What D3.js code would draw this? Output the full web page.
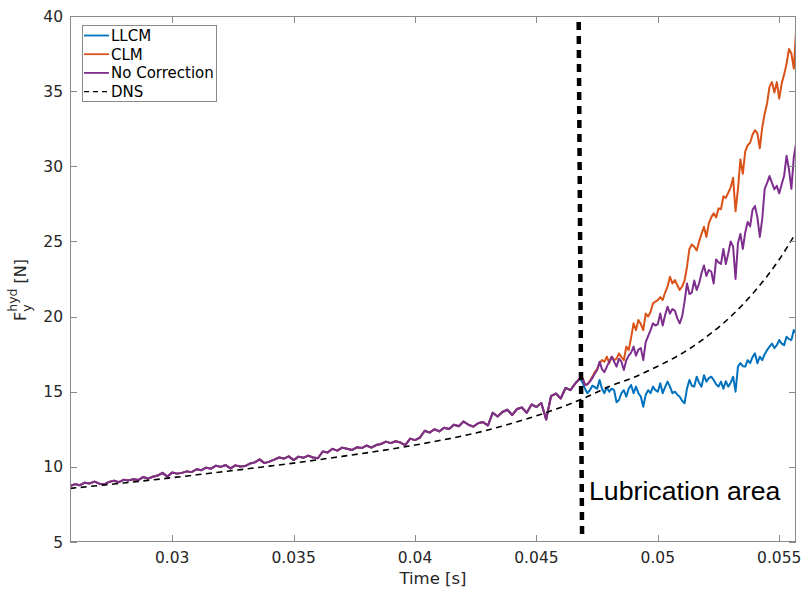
<!DOCTYPE html>
<html>
<head>
<meta charset="utf-8">
<script src="https://cdn.jsdelivr.net/npm/d3@7"></script>
<style>
	body { margin: 0; background: #fff; }
	svg { display: block; font-family: "DejaVu Sans", sans-serif; }
</style>
</head>
<body>
<svg id="chart" width="803" height="591"></svg>
<script>
// before the lubrication line all three models give the same force
const commonStart = 0.0258;
const commonStep = 0.0002;
const forceCommon = [
	8.73, 8.85, 8.78, 8.95, 8.9, 9.02, 8.88, 8.84, 9.0, 9.08,
	8.98, 9.14, 9.1, 9.18, 9.12, 9.32, 9.22, 9.34, 9.42, 9.6,
	9.35, 9.62, 9.55, 9.6, 9.7, 9.65, 9.84, 9.78, 9.95, 9.88,
	10.08, 10.0, 10.12, 9.9, 10.1, 10.02, 10.05, 10.22, 10.3, 10.5,
	10.25, 10.35, 10.48, 10.62, 10.55, 10.7, 10.45, 10.68, 10.6, 10.75,
	10.62, 10.57, 11.02, 10.95, 11.2, 11.08, 11.28, 11.2, 11.12, 11.3,
	11.25, 11.42, 11.28, 11.45, 11.52, 11.68, 11.58, 11.7, 11.62, 11.45,
	11.88, 11.78, 11.95, 12.4, 12.28, 12.5, 12.36, 12.6, 12.52, 12.8,
	12.7, 13.02, 12.8, 12.68, 12.9, 12.98, 12.75, 13.6, 13.35, 13.65,
	13.8, 13.45, 13.85, 13.95, 13.6, 14.15, 13.98, 14.25, 13.15, 14.7,
	14.88, 14.55, 15.25, 15.1, 15.55, 15.9
];

// lubrication area, from t = 0.0469 s
const lubStart = 0.0469;
const lubStep = 0.0001;
const forceLLCM = [
	15.6, 15.2, 14.9, 15.1, 15.4, 15.3, 15.2, 15.78, 15.2, 14.9,
	15.3, 15.0, 15.2, 15.1, 14.3, 14.45, 14.9, 15.1, 14.67, 15.2,
	15.45, 14.9, 15.34, 14.9, 14.67, 14.0, 14.8, 15.1, 14.9, 15.34,
	15.1, 15.0, 15.56, 14.9, 15.3, 15.67, 15.34, 14.9, 15.0, 14.8,
	14.67, 14.4, 14.23, 15.2, 15.78, 15.4, 15.34, 16.0, 15.6, 15.34,
	16.1, 15.67, 15.9, 16.0, 15.78, 15.5, 15.34, 15.67, 15.2, 15.7,
	15.34, 15.6, 16.0, 15.0, 16.67, 16.9, 16.7, 16.67, 17.1, 16.9,
	17.3, 17.55, 16.9, 17.33, 17.1, 17.5, 17.77, 18.0, 18.2, 17.9,
	18.1, 18.44, 18.2, 18.1, 18.66, 18.5, 18.44, 19.1, 18.9
];
const forceCLM = [
	15.9, 15.45, 15.5, 15.7, 16.0, 16.3, 16.5, 16.9, 17.1, 17.0,
	17.33, 16.9, 17.33, 17.1, 17.2, 17.55, 17.3, 17.1, 18.0, 17.77,
	18.6, 19.55, 19.1, 19.77, 19.5, 19.1, 20.2, 20.0, 20.3, 20.88,
	21.0, 21.1, 21.3, 21.1, 21.6, 22.0, 22.65, 22.2, 22.43, 22.1,
	21.77, 22.0, 22.4, 23.3, 24.5, 24.8, 24.65, 24.4, 25.0, 25.5,
	25.98, 25.3, 26.2, 26.6, 26.87, 26.6, 27.2, 27.14, 28.0, 27.9,
	28.24, 28.6, 29.24, 27.0, 28.5, 30.46, 29.5, 31.0, 31.4, 31.57,
	32.1, 32.4, 32.2, 31.2, 32.6, 33.5, 34.2, 35.3, 35.6, 34.9,
	35.6, 34.5, 35.5, 36.1, 36.8, 37.8, 37.5, 36.5, 39.2
];
const forceNoCorr = [
	15.9, 15.45, 15.5, 15.67, 15.9, 16.2, 16.45, 17.0, 16.5, 16.3,
	16.67, 17.0, 17.33, 17.0, 16.67, 17.2, 17.0, 16.45, 17.1, 17.4,
	17.6, 18.0, 17.4, 17.8, 17.9, 17.1, 18.3, 18.7, 19.1, 19.55,
	19.4, 19.5, 20.2, 19.4, 20.1, 20.66, 20.2, 20.5, 20.4, 19.9,
	19.55, 20.0, 21.0, 22.2, 21.5, 21.6, 22.4, 21.77, 22.2, 22.9,
	23.4, 22.7, 23.1, 23.0, 22.2, 23.8, 23.6, 23.5, 24.5, 23.5,
	24.2, 25.0, 24.65, 22.5, 24.9, 25.5, 24.5, 25.6, 26.3, 26.0,
	27.1, 27.36, 26.6, 25.3, 26.5, 28.5, 28.9, 29.35, 28.9, 28.47,
	28.7, 28.2, 28.8, 29.35, 30.7, 29.8, 28.5, 30.6, 31.6
];

const dnsTime = [
	0.0258, 0.027, 0.028, 0.029, 0.030, 0.031, 0.032, 0.033, 0.034, 0.035,
	0.036, 0.037, 0.038, 0.039, 0.040, 0.041, 0.042, 0.043, 0.044, 0.045,
	0.046, 0.047, 0.048, 0.049, 0.050, 0.051, 0.052, 0.053, 0.054, 0.055, 0.0557
];
const dnsForce = [
	8.57, 8.76, 8.93, 9.1, 9.28, 9.47, 9.66, 9.85, 10.05, 10.25,
	10.47, 10.7, 10.93, 11.18, 11.45, 11.75, 12.07, 12.45, 12.9, 13.4,
	13.95, 14.6, 15.35, 15.95, 16.7, 17.55, 18.65, 20.0, 21.7, 23.8, 25.6
];

const xTicks = [0.03, 0.035, 0.04, 0.045, 0.05, 0.055];
const xTickLabels = ["0.03", "0.035", "0.04", "0.045", "0.05", "0.055"];
const yTicks = [5, 10, 15, 20, 25, 30, 35, 40];

// hand drawn marker in the figure, slightly tilted
const markTime = [0.04674, 0.04688];
const markForce = [39.6, 5.27];

const seriesNames = ["LLCM", "CLM", "No Correction", "DNS"];
const seriesColors = ["#0072BD", "#D95319", "#7E2F8E", "#000000"];

function chart() {
	const W = 803, H = 591;
	const m = { left: 70, top: 16, right: 7, bottom: 49 };

	const svg = d3.select('#chart');

	const x = d3.scaleLinear()
		.domain([0.02579, 0.05569])
		.range([m.left, W - m.right]);

	const y = d3.scaleLinear()
		.domain([5, 40])
		.range([H - m.bottom, m.top]);

	svg.append('defs')
		.append('clipPath')
		.attr('id', 'plot-clip')
		.append('rect')
		.attr('x', m.left)
		.attr('y', m.top)
		.attr('width', W - m.left - m.right)
		.attr('height', H - m.top - m.bottom);

	const timeCommon = forceCommon.map((_, i) => commonStart + i * commonStep);
	const timeLub = forceLLCM.map((_, i) => lubStart + i * lubStep);

	const join = (f) => timeCommon.map((t, i) => [t, forceCommon[i]])
		.concat(timeLub.map((t, i) => [t, f[i]]));

	const series = [join(forceLLCM), join(forceCLM), join(forceNoCorr)];

	const line = d3.line()
		.x(d => x(d[0]))
		.y(d => y(d[1]));

	const plot = svg.append('g')
		.attr('clip-path', 'url(#plot-clip)');

	plot.selectAll('path.model')
		.data(series)
		.enter().append('path')
		.attr('class', 'model')
		.attr('fill', 'none')
		.attr('stroke', (_, i) => seriesColors[i])
		.attr('stroke-width', 2)
		.attr('stroke-linejoin', 'round')
		.attr('d', line);

	plot.append('path')
		.datum(dnsTime.map((t, i) => [t, dnsForce[i]]))
		.attr('fill', 'none')
		.attr('stroke', '#000')
		.attr('stroke-width', 1.6)
		.attr('stroke-dasharray', '6,4.5')
		.attr('d', line.curve(d3.curveMonotoneX));

	line.curve(d3.curveLinear);

	svg.append('path')
		.datum(markTime.map((t, i) => [t, markForce[i]]))
		.attr('fill', 'none')
		.attr('stroke', '#000')
		.attr('stroke-width', 4.5)
		.attr('stroke-dasharray', '8,6')
		.attr('d', line);

	svg.append('text')
		.attr('x', 589)
		.attr('y', 500)
		.attr('font-family', '"Liberation Sans", Arial, sans-serif')
		.attr('font-size', 26.7)
		.attr('fill', '#000')
		.text('Lubrication area');

	// axes, MATLAB style box with inward ticks
	const axisColor = '#262626';
	const tickLen = 7;
	const x0 = m.left, x1 = W - m.right, y0 = H - m.bottom, y1 = m.top;

	const axes = svg.append('g')
		.attr('stroke', '#8a8a8a')
		.attr('stroke-width', 1);

	axes.append('rect')
		.attr('x', x0 + 0.5)
		.attr('y', y1 + 0.5)
		.attr('width', x1 - x0 - 1)
		.attr('height', y0 - y1 - 1)
		.attr('fill', 'none');

	for (let t of xTicks) {
		const px = Math.round(x(t)) + 0.5;
		axes.append('line').attr('x1', px).attr('x2', px).attr('y1', y0).attr('y2', y0 - tickLen);
		axes.append('line').attr('x1', px).attr('x2', px).attr('y1', y1).attr('y2', y1 + tickLen);
	}
	for (let v of yTicks) {
		const py = Math.round(y(v)) + 0.5;
		axes.append('line').attr('x1', x0).attr('x2', x0 + tickLen).attr('y1', py).attr('y2', py);
		axes.append('line').attr('x1', x1).attr('x2', x1 - tickLen).attr('y1', py).attr('y2', py);
	}

	svg.append('g')
		.selectAll('text')
		.data(xTicks)
		.enter().append('text')
		.attr('x', d => x(d))
		.attr('y', y0 + 21)
		.attr('text-anchor', 'middle')
		.attr('font-size', 15.5)
		.attr('fill', axisColor)
		.text((d, i) => xTickLabels[i]);

	svg.append('g')
		.selectAll('text')
		.data(yTicks)
		.enter().append('text')
		.attr('x', x0 - 7)
		.attr('y', d => y(d) + 5.5)
		.attr('text-anchor', 'end')
		.attr('font-size', 15.5)
		.attr('fill', axisColor)
		.text(d => d);

	svg.append('text')
		.attr('x', (x0 + x1) / 2)
		.attr('y', 584)
		.attr('text-anchor', 'middle')
		.attr('font-size', 16.5)
		.attr('fill', axisColor)
		.text('Time [s]');

	// F_y^hyd [N], sub and sup stacked like TeX
	const yl = svg.append('g')
		.attr('transform', 'translate(26,321) rotate(-90)')
		.attr('fill', axisColor);

	const fF = yl.append('text').attr('x', 0).attr('y', 0).attr('font-size', 16).text('F');
	const wF = fF.node().getComputedTextLength();
	const sub = yl.append('text').attr('x', wF).attr('y', 5).attr('font-size', 12.5).text('y');
	const sup = yl.append('text').attr('x', wF).attr('y', -9).attr('font-size', 12.5).text('hyd');
	const wS = Math.max(sub.node().getComputedTextLength(), sup.node().getComputedTextLength());
	yl.append('text').attr('x', wF + wS + 5).attr('y', 0).attr('font-size', 16).text('[N]');

	// legend
	const lg = svg.append('g')
		.attr('transform', 'translate(82,25)');

	lg.append('rect')
		.attr('x', 0.5)
		.attr('y', 0.5)
		.attr('width', 134)
		.attr('height', 76)
		.attr('fill', '#fff')
		.attr('stroke', '#8a8a8a');

	const item = lg.selectAll('g.item')
		.data(seriesNames)
		.enter().append('g')
		.attr('class', 'item')
		.attr('transform', (_, i) => `translate(0,${10.5 + i * 18.7})`);

	item.append('line')
		.attr('x1', 2)
		.attr('x2', 27)
		.attr('stroke', (_, i) => seriesColors[i])
		.attr('stroke-width', (_, i) => i === 3 ? 1.4 : 1.8)
		.attr('stroke-dasharray', (_, i) => i === 3 ? '5,4' : null);

	item.append('text')
		.attr('x', 29)
		.attr('y', 5.5)
		.attr('font-size', 15)
		.attr('fill', '#000')
		.text(d => d);
}

chart();
</script>
</body>
</html>
